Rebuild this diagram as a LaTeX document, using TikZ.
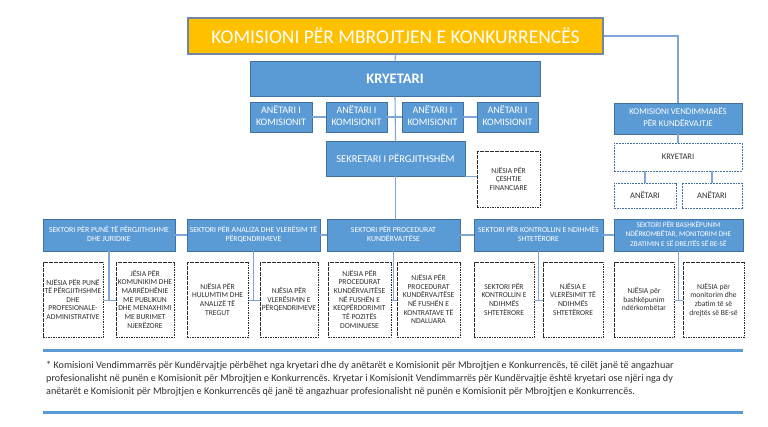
\documentclass[tikz,border=0pt]{standalone}
\usepackage{fontspec}
\setmainfont{Carlito}
\definecolor{obl}{HTML}{5B9BD5}
\definecolor{obd}{HTML}{41719C}
\definecolor{lnb}{HTML}{7EA6D8}
\definecolor{goldf}{HTML}{FFC000}
\definecolor{goldb}{HTML}{6F87A3}
\definecolor{dk}{HTML}{2B2B2B}
\definecolor{tx}{HTML}{303030}
\newcommand{\mlines}[1]{\makebox[0pt]{\begin{tabular}{@{}c@{}}#1\end{tabular}}}
\newcommand{\fsz}[2]{\fontsize{#1}{#2}\selectfont}
\begin{document}
\begin{tikzpicture}[x=1pt,y=-1pt,
  wh/.style 2 args={minimum width=#1pt, minimum height=#2pt},
  conn/.style={draw=lnb, line width=1.1pt},
  bluebox/.style={draw=obd, fill=obl, line width=0.7pt, text=white, inner sep=0pt},
  titlebox/.style={draw=goldb, fill=goldf, line width=1.2pt, text=white, inner sep=0pt, font=\fsz{19.5}{22}},
  unitbox/.style={draw=dk, dash pattern=on 1.6pt off 0.9pt, line width=1pt, fill=white, text=tx, inner sep=0pt, font=\fsz{7.6}{8.6}},
  kvdash/.style={draw=obd, dash pattern=on 1.8pt off 1pt, line width=0.9pt, fill=white, text=tx, inner sep=0pt, font=\fsz{8.5}{10}},
  sectbox/.style={bluebox, font=\fsz{7.8}{9.5}},
  anbox/.style={bluebox, font=\fsz{10}{12.5}},
  rulebar/.style={draw=obl, line width=3pt}
]
\useasboundingbox[fill=white] (0,0) rectangle (768,427);

% top
\node[titlebox, wh={415}{36}] (title) at (395.5,36) {KOMISIONI PËR MBROJTJEN E KONKURRENCËS};
\node[bluebox, wh={290}{35}, font=\fsz{14.5}{16}\bfseries] (kry) at (395,78.5) {KRYETARI};
\node[anbox, wh={62}{30}] (an1) at (281,117) {\mlines{ANËTARI I\\KOMISIONIT}};
\node[anbox, wh={61}{30}] (an2) at (356.5,117) {\mlines{ANËTARI I\\KOMISIONIT}};
\node[anbox, wh={61}{30}] (an3) at (432.5,117) {\mlines{ANËTARI I\\KOMISIONIT}};
\node[anbox, wh={61}{30}] (an4) at (507.5,117) {\mlines{ANËTARI I\\KOMISIONIT}};
\node[bluebox, wh={139}{35}, font=\fsz{10.5}{12}] (sek) at (395.5,158.5) {SEKRETARI I PËRGJITHSHËM};
\node[unitbox, wh={63}{56}] (fin) at (508.5,180) {\mlines{NJËSIA PËR\\ÇESHTJE\\FINANCIARE}};

% right branch
\node[bluebox, wh={128}{31}, font=\fsz{8.8}{12}] (kv) at (678,118.5) {\mlines{KOMISIONI VENDIMMARËS\\PËR KUNDËRVAJTJE}};
\node[kvdash, wh={128}{28}] (kvk) at (678,157) {KRYETARI};
\node[kvdash, wh={62}{25}] (kva1) at (645,195.5) {ANËTARI};
\node[kvdash, wh={60}{25}] (kva2) at (712,195.5) {ANËTARI};

% sectors
\node[sectbox, wh={132}{32}] (s1) at (109,235) {\mlines{SEKTORI PËR PUNË TË PËRGJITHSHME\\DHE JURIDIKE}};
\node[sectbox, wh={133}{32}] (s2) at (253.5,235) {\mlines{SEKTORI PËR ANALIZA DHE VLERËSIM TË\\PËRQENDRIMEVE}};
\node[sectbox, wh={133}{32}] (s3) at (393.5,235) {\mlines{SEKTORI PËR PROCEDURAT\\KUNDËRVAJTËSE}};
\node[sectbox, wh={129}{32}] (s4) at (538.5,235) {\mlines{SEKTORI PËR KONTROLLIN E NDIHMËS\\SHTETËRORE}};
\node[sectbox, wh={129}{32}, font=\fsz{7.3}{9.3}] (s5) at (678.5,235) {\mlines{SEKTORI PËR BASHKËPUNIM\\NDËRKOMBËTAR, MONITORIM DHE\\ZBATIMIN E SË DREJTËS SË BE-SË}};

% units
\node[unitbox, wh={60}{75}] (b1) at (73,300.5) {\mlines{NJËSIA PËR PUNË\\TË PËRGJITHSHME\\DHE\\PROFESIONALE-\\ADMINISTRATIVE}};
\node[unitbox, wh={58}{75}] (b2) at (145,300.5) {\mlines{JËSIA PËR\\KOMUNIKIM DHE\\MARRËDHËNIE\\ME PUBLIKUN\\DHE MENAXHIMI\\ME BURIMET\\NJERËZORE}};
\node[unitbox, wh={61}{75}] (b3) at (217.5,300.5) {\mlines{NJËSIA PËR\\HULUMTIM DHE\\ANALIZË TË\\TREGUT}};
\node[unitbox, wh={58}{75}] (b4) at (289,300.5) {\mlines{NJËSIA PËR\\VLERËSIMIN E\\PËRQENDRIMEVE}};
\node[unitbox, wh={63}{75}] (b5) at (359.5,300.5) {\mlines{NJËSIA PËR\\PROCEDURAT\\KUNDËRVAJTËSE\\NË FUSHËN E\\KEQPËRDORIMIT\\TË POZITËS\\DOMINUESE}};
\node[unitbox, wh={63}{75}] (b6) at (428.5,300.5) {\mlines{NJËSIA PËR\\PROCEDURAT\\KUNDËRVAJTËSE\\NË FUSHËN E\\KONTRATAVE TË\\NDALUARA}};
\node[unitbox, wh={60}{75}] (b7) at (504,300.5) {\mlines{SEKTORI PËR\\KONTROLLIN E\\NDIHMËS\\SHTETËRORE}};
\node[unitbox, wh={60}{75}] (b8) at (573,300.5) {\mlines{NJËSIA E\\VLERËSIMIT TË\\NDIHMËS\\SHTETËRORE}};
\node[unitbox, wh={60}{75}] (b9) at (644,300.5) {\mlines{NJËSIA për\\bashkëpunim\\ndërkombëtar}};
\node[unitbox, wh={61}{75}] (b10) at (713.5,300.5) {\mlines{NJËSIA për\\monitorim dhe\\zbatim të së\\drejtës së BE-së}};

% connectors
\draw[conn] (title.south) -- (kry.north);
\draw[conn] (title.east) -| (kv.north);
\draw[conn] (kry.south) -- (sek.north);
\draw[conn] (an1.east) -- (an2.west);
\draw[conn] (an2.east) -- (an3.west);
\draw[conn] (an3.east) -- (an4.west);
\draw[conn] (sek.south east) -- (sek.south east -| fin.west);
\draw[conn] (sek.south) -- (sek.south |- s3.north);
\draw[conn] (s1.east) -- (s2.west);
\draw[conn] (s2.east) -- (s3.west);
\draw[conn] (s3.east) -- (s4.west);
\draw[conn] (s4.east) -- (s5.west);
\draw[conn] (s1.south) -- (s1.south |- b1.east);
\draw[conn] (b1.east) -- (b2.west);
\draw[conn] (s2.south) -- (s2.south |- b3.east);
\draw[conn] (b3.east) -- (b4.west);
\draw[conn] (s3.south) -- (s3.south |- b5.east);
\draw[conn] (b5.east) -- (b6.west);
\draw[conn] (s4.south) -- (s4.south |- b7.east);
\draw[conn] (b7.east) -- (b8.west);
\draw[conn] (s5.south) -- (s5.south |- b9.east);
\draw[conn] (b9.east) -- (b10.west);
\draw[conn] (kv.south) -- (kvk.north);
\draw[conn] (kva1.north |- kvk.south) -- (kva1.north);
\draw[conn] (kva2.north |- kvk.south) -- (kva2.north);

% footnote
\draw[rulebar] (43,351) -- (743,351);
\draw[rulebar] (43,412) -- (743,412);
\node[anchor=north west, inner sep=0pt, text=tx, font=\fsz{10.15}{13}, align=left] (note) at (46,361.5) {* Komisioni Vendimmarrës për Kundërvajtje përbëhet nga kryetari dhe dy anëtarët e Komisionit për Mbrojtjen e Konkurrencës, të cilët janë të angazhuar\\
profesionalisht në punën e Komisionit për Mbrojtjen e Konkurrencës. Kryetar i Komisionit Vendimmarrës për Kundërvajtje është kryetari ose njëri nga dy\\
anëtarët e Komisionit për Mbrojtjen e Konkurrencës që janë të angazhuar profesionalisht në punën e Komisionit për Mbrojtjen e Konkurrencës.};
\end{tikzpicture}
\end{document}
